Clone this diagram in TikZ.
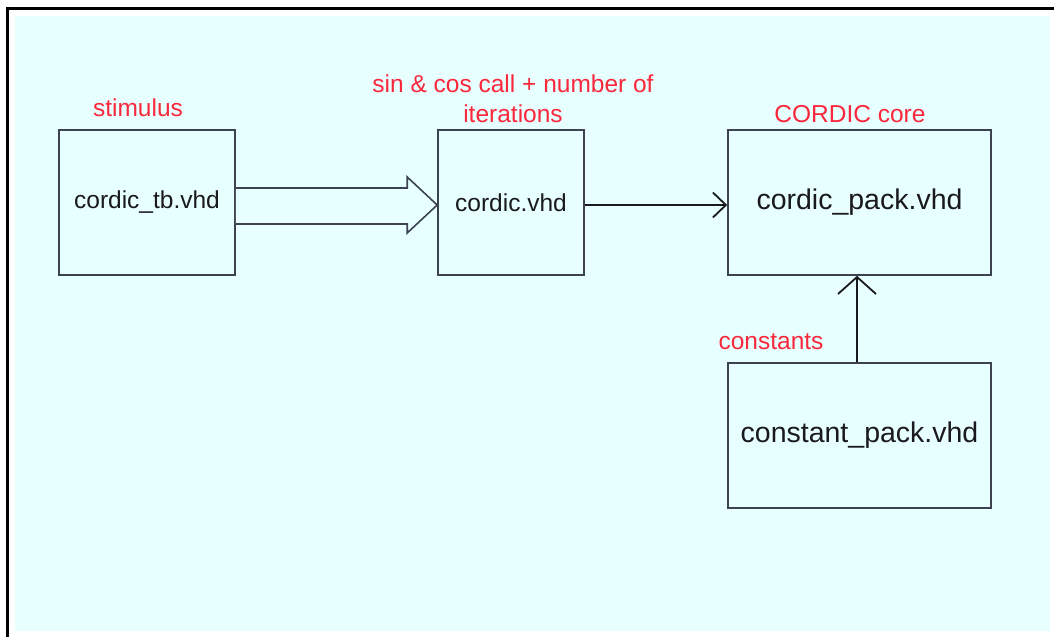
\documentclass[tikz,border=0pt]{standalone}
\usepackage{fontspec}
\setmainfont{Liberation Sans}
\usetikzlibrary{calc,arrows.meta}
\definecolor{bgcyan}{RGB}{232,255,255}
\definecolor{boxline}{RGB}{60,66,80}
\definecolor{lblred}{RGB}{250,40,60}
\definecolor{txt}{RGB}{25,25,30}
\begin{document}
\begin{tikzpicture}[x=1pt,y=-1pt,
  filebox/.style={draw=boxline,line width=1.6pt,fill=bgcyan,inner sep=0pt,
    font=\fontsize{24.5}{29}\selectfont,text=txt},
  bigbox/.style={filebox,font=\fontsize{28.5}{34}\selectfont},
  redlbl/.style={text=lblred,font=\fontsize{24.5}{30}\selectfont,inner sep=0pt,align=center},
  conn/.style={draw=txt,line width=1.8pt},
  openhead/.style={-{Straight Barb[length=13pt,width=25pt,line width=1.8pt]}},
  bighead/.style={-{Straight Barb[length=17pt,width=38pt,line width=1.8pt]}}
]
\useasboundingbox (0,0) rectangle (1054,637);
\fill[bgcyan] (15,16) rectangle (1050,631);
\draw[line width=3pt] (6,8) -- (1054,8);
\draw[line width=3pt] (7.5,6.5) -- (7.5,637);

\node[filebox,minimum width=176pt,minimum height=145pt] (tb) at (147,202.5) {cordic\_tb.vhd};
\node[filebox,minimum width=146pt,minimum height=145pt] (cd) at (511,202.5) {cordic.vhd};
\node[bigbox,minimum width=263pt,minimum height=145pt] (cp) at (859.5,202.5) {cordic\_pack.vhd};
\node[bigbox,minimum width=263pt,minimum height=145pt] (kp) at (859.5,435.5) {constant\_pack.vhd};

\node[redlbl] (l1) at (138,108) {stimulus};
\node[redlbl] (l2) at (513,99) {sin \& cos call + number of\\iterations};
\node[redlbl] (l3) at (850,114) {CORDIC core};
\node[redlbl] (l4) at (771,342) {constants};

% hollow block arrow
\draw[draw=boxline,line width=1.6pt,fill=bgcyan,line join=miter]
  ($(tb.east)+(0,-14.5)$) -- ($(cd.west)+(-30,-14.5)$) -- ($(cd.west)+(-30,-25.5)$)
  -- ($(cd.west)+(0,2.5)$) -- ($(cd.west)+(-30,30.5)$) -- ($(cd.west)+(-30,21.5)$) -- ($(tb.east)+(0,21.5)$);

\draw[conn,openhead] ($(cd.east)+(0,2.5)$) -- ($(cp.west)+(0,2.5)$);
\draw[conn,bighead] ($(kp.north)+(-2.5,0)$) -- ($(cp.south)+(-2.5,0)$);
\end{tikzpicture}
\end{document}
